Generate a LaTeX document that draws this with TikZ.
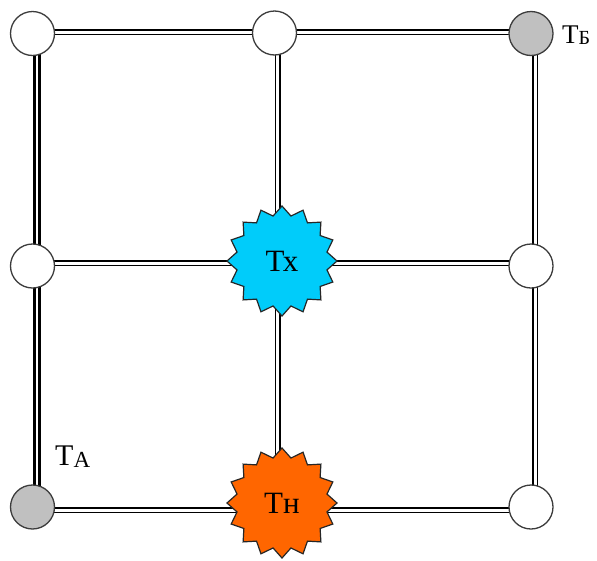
\documentclass[tikz,border=0pt]{standalone}
\usepackage{fontspec}
\setmainfont{Liberation Serif}
\usetikzlibrary{shapes.geometric,backgrounds}
\definecolor{starblue}{RGB}{0,204,250}
\definecolor{starorange}{RGB}{255,102,0}
\definecolor{nodegray}{RGB}{192,192,192}
\definecolor{edgecol}{RGB}{60,60,60}
\tikzset{
  vert/.style={circle, draw=edgecol, line width=1.3pt, minimum size=44pt, inner sep=0pt, fill=white},
  grayvert/.style={vert, fill=nodegray},
  burst/.style={star, star points=16, star point ratio=1.2, minimum size=110pt, inner sep=0pt,
    draw=black!85, line width=1.2pt, font=\fontsize{31}{31}\selectfont},
  rail/.style={draw=black, line width=1.5pt, double=white, double distance=3pt},
  thickrail/.style={draw=black, line width=3pt, double=white, double distance=2pt},
  lbl/.style={inner sep=0pt, anchor=base west}
}
\begin{document}
\begin{tikzpicture}[x=1pt, y=-1pt]
\useasboundingbox (0,0) rectangle (597,560);
\node[vert] (c11) at (32.5,33.5) {};
\node[vert] (c12) at (274.5,33) {};
\node[grayvert] (c13) at (531,33.5) {};
\node[vert] (c21) at (32.5,266) {};
\node[burst, fill=starblue] (sx) at (282,261) {Тх};
\node[vert] (c23) at (531,266) {};
\node[grayvert] (c31) at (32.5,507) {};
\node[burst, fill=starorange] (sn) at (282,503) {Тн};
\node[vert] (c33) at (531,507) {};
\begin{scope}[on background layer]
\draw[rail] ([yshift=1.5pt]c11.center) -- ([yshift=1.5pt]c13.center);
\draw[rail] ([yshift=3pt]c21.center) -- ([yshift=3pt]c23.center);
\draw[rail] ([yshift=-3pt]c31.center) -- ([yshift=-3pt]c33.center);
\draw[thickrail] ([xshift=4.5pt]c11.center) -- ([xshift=4.5pt]c31.center);
\draw[rail] ([xshift=3pt]c12.center) -- ([xshift=3pt]c12.center |- sn.center);
\draw[rail] ([xshift=4pt]c13.center) -- ([xshift=4pt]c33.center);
\end{scope}
\node[lbl, font=\fontsize{30}{30}\selectfont] (ta) at (55,465) {Т\raisebox{-2pt}{\fontsize{23}{23}\selectfont А}};
\node[lbl, font=\fontsize{27}{27}\selectfont] (tb) at (562,43) {Т\raisebox{-1pt}{\fontsize{20}{20}\selectfont Б}};
\end{tikzpicture}
\end{document}
